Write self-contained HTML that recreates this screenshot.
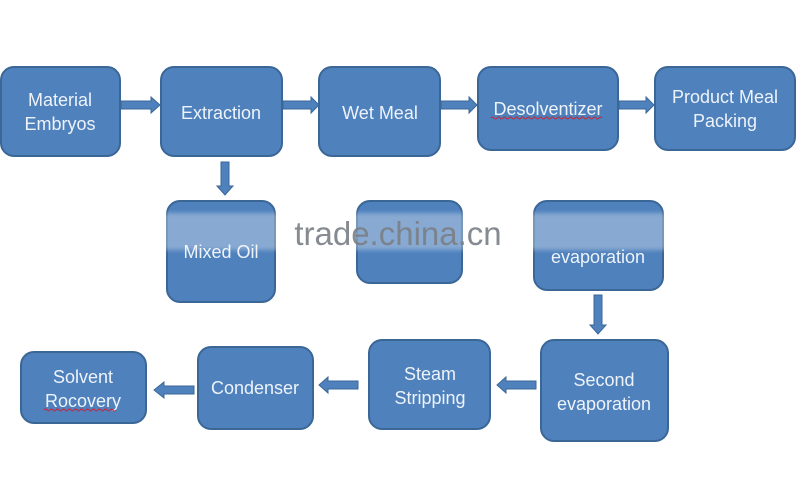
<!DOCTYPE html>
<html><head><meta charset="utf-8"><style>
html,body{margin:0;padding:0;background:#fff;}
svg{display:block;}
text{font-family:"Liberation Sans",sans-serif;fill:#eef3fa;font-size:18px;text-anchor:middle;}
</style></head><body>
<svg width="800" height="487" viewBox="0 0 800 487" xmlns="http://www.w3.org/2000/svg">
<defs>
<filter id="b" x="-5%" y="-50%" width="110%" height="200%"><feGaussianBlur stdDeviation="2"/></filter>
</defs>
<g fill="#4f81bd" stroke="#3b6797" stroke-width="2">
<rect x="1" y="67" width="119" height="89" rx="13"/>
<rect x="161" y="67" width="121" height="89" rx="13"/>
<rect x="319" y="67" width="121" height="89" rx="13"/>
<rect x="478" y="67" width="140" height="83" rx="13"/>
<rect x="655" y="67" width="140" height="83" rx="13"/>
<rect x="167" y="201" width="108" height="101" rx="13"/>
<rect x="357" y="201" width="105" height="82" rx="13"/>
<rect x="534" y="201" width="129" height="89" rx="13"/>
<rect x="541" y="340" width="127" height="101" rx="13"/>
<rect x="369" y="340" width="121" height="89" rx="13"/>
<rect x="198" y="347" width="115" height="82" rx="13"/>
<rect x="21" y="352" width="125" height="71" rx="13"/>
</g>
<g fill="#4f81bd" stroke="#3b6797" stroke-width="1">
<polygon points="121,101 151,101 151,97 160,105 151,113 151,109 121,109"/>
<polygon points="283,101 311,101 311,97 319,105 311,113 311,109 283,109"/>
<polygon points="441,101 469,101 469,97 477,105 469,113 469,109 441,109"/>
<polygon points="619,101 646,101 646,97 654,105 646,113 646,109 619,109"/>
<polygon points="221,162 229,162 229,186 233,186 225,195 217,186 221,186"/>
<polygon points="594,295 602,295 602,325 606,325 598,334 590,325 594,325"/>
<polygon points="536,381 506,381 506,377 497,385 506,393 506,389 536,389"/>
<polygon points="358,381 328,381 328,377 319,385 328,393 328,389 358,389"/>
<polygon points="194,386 164,386 164,382 154,390 164,398 164,394 194,394"/>
</g>
<text x="60" y="106">Material</text>
<text x="60" y="130">Embryos</text>
<text x="221" y="119">Extraction</text>
<text x="380" y="119">Wet Meal</text>
<text x="548" y="115">Desolventizer</text>
<path d="M491 118 q1.5 -2 3 0 t3 0 t3 0 t3 0 t3 0 t3 0 t3 0 t3 0 t3 0 t3 0 t3 0 t3 0 t3 0 t3 0 t3 0 t3 0 t3 0 t3 0 t3 0 t3 0 t3 0 t3 0 t3 0 t3 0 t3 0 t3 0 t3 0 t3 0 t3 0 t3 0 t3 0 t3 0 t3 0 t3 0 t3 0 t3 0 t3 0" fill="none" stroke="#d02030" stroke-width="1"/>
<text x="725" y="103">Product Meal</text>
<text x="725" y="127">Packing</text>
<text x="221" y="258">Mixed Oil</text>
<text x="598" y="263">evaporation</text>
<text x="604" y="386">Second</text>
<text x="604" y="410">evaporation</text>
<text x="430" y="380">Steam</text>
<text x="430" y="404">Stripping</text>
<text x="255" y="394">Condenser</text>
<text x="83" y="383">Solvent</text>
<text x="83" y="407">Rocovery</text>
<path d="M44 410 q1.5 -2 3 0 t3 0 t3 0 t3 0 t3 0 t3 0 t3 0 t3 0 t3 0 t3 0 t3 0 t3 0 t3 0 t3 0 t3 0 t3 0 t3 0 t3 0 t3 0 t3 0 t3 0 t3 0 t3 0 t3 0" fill="none" stroke="#d02030" stroke-width="1"/>
<rect x="160" y="213" width="510" height="37" fill="#ffffff" opacity="0.32" filter="url(#b)"/>
<text x="398" y="245" style="font-size:33px;fill:#7a7f86;opacity:0.9;">trade.china.cn</text>
</svg>
</body></html>
